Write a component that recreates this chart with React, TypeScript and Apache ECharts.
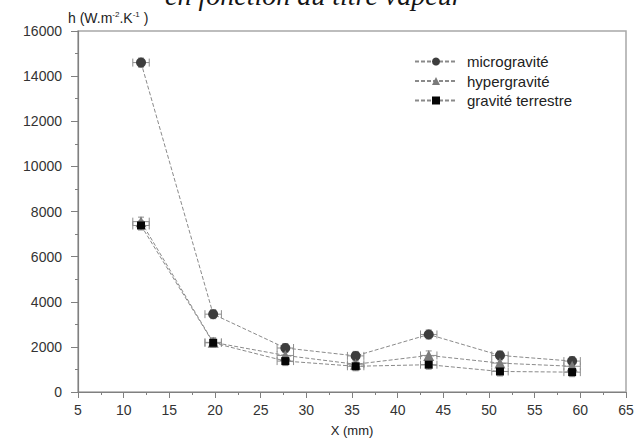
import React, { useEffect, useRef } from "react";
import * as echarts from "echarts";

// ---- data ----
const xPositions = [11.9, 19.8, 27.7, 35.4, 43.4, 51.2, 59.1];
const microValues = [14600, 3450, 1950, 1600, 2550, 1620, 1370];
const hyperValues = [7550, 2200, 1620, 1230, 1620, 1280, 1140];
const terreValues = [7380, 2180, 1370, 1140, 1210, 910, 880];
const xError = 0.9;
const yError = 200;
const seriesNames = ["microgravité", "hypergravité", "gravité terrestre"];
const titleText = "en fonction du titre vapeur";
const yAxisTitle = "h (W.m{sup|-2}.K{sup|-1} )";
const xAxisTitle = "X (mm)";

const FONT = "'Liberation Sans', Arial, sans-serif";

function pairs(vals: number[]) {
  return xPositions.map((x, i) => [x, vals[i]]);
}
function errData(vals: number[]) {
  return xPositions.map((x, i) => [x, vals[i], xError, yError]);
}

const errStyle = { stroke: "#8e8e8e", lineWidth: 1 };
function renderErr(params: any, api: any) {
  const x = api.value(0);
  const y = api.value(1);
  const xe = api.value(2);
  const ye = api.value(3);
  const l = api.coord([x - xe, y]);
  const r = api.coord([x + xe, y]);
  const t = api.coord([x, y + ye]);
  const b = api.coord([x, y - ye]);
  const cap = 4;
  const vcap = 3;
  return {
    type: "group",
    children: [
      { type: "line", shape: { x1: l[0], y1: l[1], x2: r[0], y2: r[1] }, style: errStyle },
      { type: "line", shape: { x1: l[0], y1: l[1] - cap, x2: l[0], y2: l[1] + cap }, style: errStyle },
      { type: "line", shape: { x1: r[0], y1: r[1] - cap, x2: r[0], y2: r[1] + cap }, style: errStyle },
      { type: "line", shape: { x1: t[0], y1: t[1], x2: b[0], y2: b[1] }, style: errStyle },
      { type: "line", shape: { x1: t[0] - vcap, y1: t[1], x2: t[0] + vcap, y2: t[1] }, style: errStyle },
      { type: "line", shape: { x1: b[0] - vcap, y1: b[1], x2: b[0] + vcap, y2: b[1] }, style: errStyle },
    ],
  };
}

const lineStyle = { color: "#8a8a8a", width: 1, type: [4, 2] as any };

function lineSeries(name: string, vals: number[], symbol: string, size: number, color: string) {
  return {
    name,
    type: "line",
    data: pairs(vals),
    symbol,
    symbolSize: size,
    itemStyle: { color, opacity: 1 },
    lineStyle,
    z: 3,
  };
}

function errSeries(vals: number[]) {
  return {
    type: "custom",
    data: errData(vals),
    renderItem: renderErr,
    encode: { x: 0, y: 1 },
    z: 2,
    silent: true,
  };
}

export default function App() {
  const ref = useRef<HTMLDivElement>(null);
  useEffect(() => {
    if (!ref.current) return;
    const chart = echarts.init(ref.current, undefined, { renderer: "svg" });
    chart.setOption({
      animation: false,
      backgroundColor: "#ffffff",
      textStyle: { fontFamily: FONT },
      grid: {
        left: 78,
        right: 18,
        top: 31,
        bottom: 49,
        show: true,
        borderColor: "#a8a8a8",
        borderWidth: 1.5,
      },
      legend: {
        data: seriesNames,
        orient: "vertical",
        left: 409,
        top: 49,
        itemWidth: 42,
        itemHeight: 10,
        itemGap: 4.5,
        textStyle: { fontFamily: FONT, fontSize: 15, color: "#222", padding: [0, 0, 0, 5] },
      },
      xAxis: {
        type: "value",
        min: 5,
        max: 65,
        interval: 5,
        splitLine: { show: false },
        axisLine: { lineStyle: { color: "#808080", width: 1.2 } },
        axisTick: { inside: false, length: 6, lineStyle: { color: "#808080" } },
        minorTick: { show: true, splitNumber: 2, length: 3, lineStyle: { color: "#808080" } },
        axisLabel: { fontFamily: FONT, fontSize: 14, color: "#333", margin: 11 },
      },
      yAxis: {
        type: "value",
        min: 0,
        max: 16000,
        interval: 2000,
        splitLine: { show: false },
        axisLine: { show: true, lineStyle: { color: "#808080", width: 1.2 } },
        axisTick: { show: true, inside: false, length: 7, lineStyle: { color: "#808080" } },
        minorTick: { show: true, splitNumber: 2, length: 3, lineStyle: { color: "#808080" } },
        axisLabel: {
          fontFamily: FONT,
          fontSize: 14,
          color: "#333",
          margin: 16,
          formatter: (v: number) => String(v),
        },
      },
      graphic: [
        {
          type: "text",
          x: 165,
          y: 9,
          style: {
            text: titleText,
            fontFamily: "'Liberation Serif', 'Times New Roman', serif",
            fontStyle: "italic",
            fontSize: 28,
            fill: "#151515",
            verticalAlign: "bottom",
          },
        },
        {
          type: "text",
          left: 68,
          top: 10,
          style: {
            text: yAxisTitle,
            fontFamily: FONT,
            fontSize: 14,
            fill: "#222",
            rich: {
              sup: { fontSize: 8, fontFamily: FONT, fill: "#222", padding: [0, 0, 7, 0] },
            },
          },
        },
        {
          type: "text",
          x: 352,
          y: 430,
          style: {
            text: xAxisTitle,
            fontFamily: FONT,
            fontSize: 13,
            fill: "#222",
            align: "center",
            verticalAlign: "middle",
          },
        },
      ],
      series: [
        errSeries(microValues),
        errSeries(hyperValues),
        errSeries(terreValues),
        lineSeries(seriesNames[0], microValues, "circle", 10, "#3d3d3d"),
        lineSeries(seriesNames[1], hyperValues, "triangle", 11, "#7a7a7a"),
        lineSeries(seriesNames[2], terreValues, "rect", 8, "#050505"),
      ],
    });
    return () => chart.dispose();
  }, []);
  return (
    <div
      ref={ref}
      style={{ position: "absolute", left: 0, top: 0, width: 644, height: 441 }}
    />
  );
}
